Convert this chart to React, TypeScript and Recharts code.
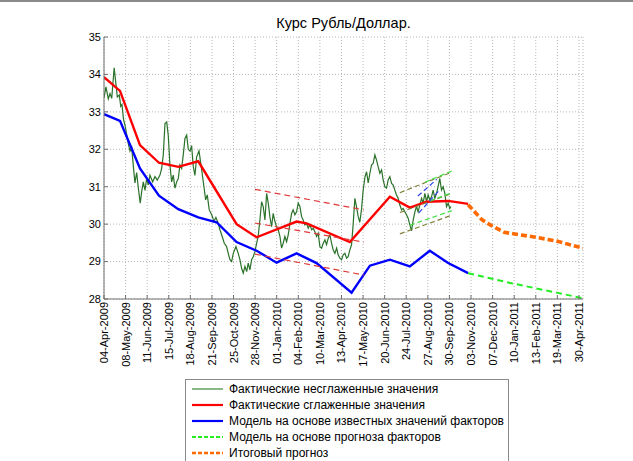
import React from 'react';
import { LineChart, Line, XAxis, YAxis, CartesianGrid } from 'recharts';

// x unit: trading-day index, one tick label every 24 points
const TICK_LABELS = ['04-Apr-2009','08-May-2009','11-Jun-2009','15-Jul-2009','18-Aug-2009','21-Sep-2009','25-Oct-2009','28-Nov-2009','01-Jan-2010','04-Feb-2010','10-Mar-2010','13-Apr-2010','17-May-2010','20-Jun-2010','24-Jul-2010','27-Aug-2010','30-Sep-2010','03-Nov-2010','07-Dec-2010','10-Jan-2011','13-Feb-2011','19-Mar-2011','30-Apr-2011'];
const TICK_STEP = 24;
const X_MAX = 532.5;
const Y_TICKS = [28, 29, 30, 31, 32, 33, 34, 35];

// Фактические несглаженные значения [t, value]
const rawSeries: [number, number][] = [
  [0,33.37],[2.2,33.67],[4.8,33.35],[6.7,33.49],[8.6,33.36],[11.3,34.18],[13,33.8],[14.8,33.4],[17,33.45],[18.6,33.15],[20,33.2],[21.7,32.8],
  [23.3,32.65],[25.2,32.4],[27,32.15],[28.9,31.95],[30.8,32.05],[32.6,31.55],[34.4,31.1],[36.3,31.38],[38.1,30.98],[40.3,30.56],[41.9,30.87],
  [43.7,31.13],[45.6,30.9],[47.4,31.22],[49.2,31.05],[51.1,31.31],[54.1,31.13],[56.7,31.27],[59.2,31.18],[62.2,31.31],[64.1,31.49],[65.9,31.85],
  [67.8,32.69],[69.7,32.73],[71.4,32.38],[73.3,31.58],[75.2,31.13],[77,31.31],[78.9,30.96],[80.8,31.13],[82.6,31.22],[84.4,31.58],[86.3,31.49],
  [88.1,31.85],[90,32.29],[91.9,32.38],[93.7,32.0],[95.6,31.95],[97.4,32.1],[99.2,31.55],[101.1,31.3],[103,31.8],[105.6,31.96],
  [108.6,31.45],[111.1,31.0],[113,30.65],[114.8,30.78],[117,30.38],[119.7,30.25],[122.2,30.07],[124.4,30.18],[127,30.02],[128.9,29.85],
  [131.4,29.67],[133.7,29.49],[136.3,29.4],[138.1,29.22],[140,29.05],[141.9,29.0],[143.7,29.22],[146.7,29.4],[149.2,29.22],[151.1,29.05],
  [153,28.82],[154.8,28.69],[156.7,28.87],[158.6,28.73],[160.3,28.96],[162.2,28.78],[164.1,29.05],[165.9,29.13],[167.8,29.27],[169.7,29.49],
  [171.4,29.67],[173.3,30.11],[175.2,30.6],[177,30.47],[178.9,30.11],[180.8,30.82],[182.6,30.56],[184.4,30.2],[186.3,29.93],[188.1,30.29],
  [190,30.07],[191.9,29.93],[193.7,29.85],[195.6,29.67],[197.4,29.36],[199.2,29.49],[201.1,29.67],[203,29.53],[204.8,29.71],[206.7,30.02],
  [208.6,30.29],[210.3,30.38],[212.2,30.25],[214.1,30.33],[215.9,30.56],[217.8,30.47],[219.7,30.2],[221.4,30.11],[223.3,29.98],[225.2,30.02],
  [227,29.89],[228.9,29.98],[230.8,29.85],[232.6,29.89],[234.4,29.8],[236.3,29.67],[238.1,29.76],[240,29.4],[241.9,29.36],[243.7,29.49],
  [245.6,29.58],[247.4,29.45],[249.2,29.62],[251.1,29.71],[253,29.49],[254.8,29.31],[256.7,29.22],[258.6,29.36],[260.3,29.18],[262.2,29.09],
  [264.1,29.05],[265.9,29.18],[267.8,29.22],[269.7,29.09],[271.4,29.13],[273.3,29.31],[275.2,29.45],[277,30.0],[278.9,30.69],[280.8,30.45],
  [282.6,30.2],[284.4,30.05],[286.3,30.4],[288.1,30.9],[290,31.25],[291.9,31.4],[293.7,31.1],[295.6,31.36],[297.4,31.58],[299.2,31.62],
  [301.1,31.85],[303,31.71],[304.8,31.53],[306.7,31.36],[308.6,31.45],[310.3,31.18],[312.2,31.0],[314.1,30.96],[315.9,31.18],[317.8,31.27],
  [319.7,31.09],[321.4,31.05],[323.3,30.91],[325.2,30.78],[327,30.69],[328.9,30.51],[330.8,30.38],[332.6,30.42],[334.4,30.33],[336.3,30.25],
  [338.1,30.16],[340,29.98],[341.9,29.82],[343.7,30.11],[345.6,30.33],[347.4,30.47],[349.2,30.33],[351.1,30.51],[353,30.69],[354.8,30.56],
  [356.7,30.82],[358.6,30.6],[360.3,30.78],[362.2,30.65],[364.1,30.73],[365.9,30.91],[367.8,30.69],[369.7,30.82],[371.4,31.0],[373.3,31.22],
  [375.2,30.91],[377,31.0],[378.9,30.82],[380.8,30.47],[382.6,30.56],[384.4,30.42],[385.6,30.47],
];

// Фактические сглаженные значения
const smoothSeries: [number, number][] = [
  [0,33.93],[17.8,33.56],[40,32.11],[61.1,31.64],[82.6,31.53],[104.8,31.68],[147.4,30.0],[169.7,29.65],
  [214.1,30.07],[225.2,30.02],[273.3,29.52],[317.8,30.73],[340,30.44],[358.6,30.6],[382.6,30.62],[404.8,30.54],
];

// Модель на основе известных значений факторов
const modelKnown: [number, number][] = [
  [0,32.94],[17.8,32.76],[40,31.49],[61.1,30.76],[82.6,30.4],[104.8,30.18],[125.2,30.05],[147.4,29.52],[169.7,29.29],
  [191.9,28.97],[214.1,29.22],[236.3,28.96],[275.2,28.17],[295.6,28.89],[317.8,29.05],[340,28.87],[362.2,29.29],[382.6,28.96],[404.8,28.69],
];

// Модель на основе прогноза факторов
const modelForecast: [number, number][] = [
  [404.8,28.69],[451.5,28.43],[503,28.17],[532.5,28.02],
];

// Итоговый прогноз
const finalForecast: [number, number][] = [
  [404.8,30.52],[420,30.12],[430.8,29.96],[445,29.78],[480,29.65],[502.6,29.55],[532.5,29.36],
];

// trend channels
const redUpper: [number, number][] = [[167.8,30.93],[288.9,30.38]];
const redMiddle: [number, number][] = [[167.8,30.03],[288.9,29.52]];
const redLower: [number, number][] = [[167.8,29.2],[288.9,28.64]];
const oliveUpper: [number, number][] = [[328.9,30.84],[386.7,31.39]];
const oliveMiddle: [number, number][] = [[328.9,30.31],[386.7,30.82]];
const oliveLower: [number, number][] = [[328.9,29.74],[386.7,30.24]];
const greenUpper: [number, number][] = [[356.7,31.12],[386.7,31.42]];
const greenMiddle: [number, number][] = [[362.2,30.62],[386.7,30.84]];
const greenLower: [number, number][] = [[340,29.97],[386.7,30.36]];
const blueUpper: [number, number][] = [[348.9,30.75],[370,31.2]];
const blueLower: [number, number][] = [[350,30.3],[373.3,30.92]];

const LEGEND_ITEMS = [
  { label: 'Фактические несглаженные значения', color: '#3a8a3a', width: 1.2, dash: undefined },
  { label: 'Фактические сглаженные значения', color: '#ff0000', width: 2.2, dash: undefined },
  { label: 'Модель на основе известных значений факторов', color: '#0000ff', width: 2.2, dash: undefined },
  { label: 'Модель на основе прогноза факторов', color: '#22ee22', width: 2, dash: '4 2' },
  { label: 'Итоговый прогноз', color: '#ff6a00', width: 2.6, dash: '4 2' },
];

const toPts = (arr: [number, number][]) => arr.map(([t, v]) => ({ t, v }));
const xTicks = TICK_LABELS.map((_, i) => i * TICK_STEP);
const FONT = '"Liberation Sans", Arial, sans-serif';

const XTick = (props: any) => {
  const { x, y, payload } = props;
  const idx = Math.round(payload.value / TICK_STEP);
  return (
    <text x={x} y={y} transform={`rotate(-90 ${x} ${y})`} textAnchor="end" dominantBaseline="central"
      fontSize={11} fill="#000" fontFamily={FONT}>
      {TICK_LABELS[idx]}
    </text>
  );
};

const series = (key: string, arr: [number, number][], stroke: string, width: number, dash?: string) => (
  <Line key={key} xAxisId="b" yAxisId="l" data={toPts(arr)} dataKey="v" type="linear" dot={false}
    activeDot={false} stroke={stroke} strokeWidth={width} strokeDasharray={dash}
    isAnimationActive={false} legendType="none" />
);

export default function App() {
  return (
    <div style={{ position: 'absolute', left: 0, top: 0, width: 633, height: 461, background: '#fff', fontFamily: FONT, overflow: 'hidden' }}>
      <div style={{ position: 'absolute', left: 0, top: 0, width: 633, height: 2, background: '#8a8a8a' }} />
      <LineChart width={633} height={461} margin={{ top: 37, right: 50, left: 0, bottom: 92 }}>
        <CartesianGrid xAxisId="b" yAxisId="l" stroke="#b8b8b8" strokeDasharray="1 2" />
        <XAxis xAxisId="b" dataKey="t" type="number" domain={[0, X_MAX]} ticks={xTicks} interval={0}
          allowDataOverflow height={70} tick={<XTick />} tickSize={-4} tickMargin={7}
          stroke="#707070" tickLine={{ stroke: '#707070' }} />
        <XAxis xAxisId="top" orientation="top" dataKey="t" type="number" domain={[0, X_MAX]} ticks={xTicks}
          interval={0} allowDataOverflow height={0} tick={false} tickSize={-4} stroke="#a0a0a0" />
        <YAxis yAxisId="l" type="number" domain={[28, 35]} ticks={Y_TICKS} interval={0} width={104}
          tickSize={-4} tickMargin={7} stroke="#707070"
          tick={{ fontSize: 11, fill: '#000', fontFamily: FONT }} />
        <YAxis yAxisId="r" orientation="right" type="number" domain={[28, 35]} ticks={Y_TICKS} interval={0}
          width={0} tick={false} tickSize={-4} stroke="#707070" />
        {series('raw', rawSeries, '#2a722a', 1.2)}
        {series('smooth', smoothSeries, '#ff0000', 2.4)}
        {series('known', modelKnown, '#0000ff', 2.4)}
        {series('fcModel', modelForecast, '#22ee22', 2, '6 4')}
        {series('fcFinal', finalForecast, '#ff6a00', 3.6, '6 3')}
        {series('ru', redUpper, '#e03a3a', 1.2, '6 4')}
        {series('rm', redMiddle, '#e03a3a', 1.2, '6 4')}
        {series('rl', redLower, '#e03a3a', 1.2, '6 4')}
        {series('ou', oliveUpper, '#80803a', 1.2, '5 3')}
        {series('om', oliveMiddle, '#80803a', 1.2, '5 3')}
        {series('ol', oliveLower, '#80803a', 1.2, '5 3')}
        {series('gu', greenUpper, '#44dd44', 1.2, '5 3')}
        {series('gm', greenMiddle, '#44dd44', 1.2, '5 3')}
        {series('gl', greenLower, '#44dd44', 1.2, '5 3')}
        {series('bu', blueUpper, '#3344ee', 1.2, '5 3')}
        {series('bl', blueLower, '#3344ee', 1.2, '5 3')}
      </LineChart>
      <svg width={633} height={461} style={{ position: 'absolute', left: 0, top: 0, pointerEvents: 'none' }}>
        <text x={343.5} y={28} textAnchor="middle" fontSize={14.5} fill="#000" fontFamily={FONT}>Курс Рубль/Доллар.</text>
        <rect x={185.5} y={379.5} width={323} height={100} fill="#fff" stroke="#8a8a8a" strokeWidth={1} />
        {LEGEND_ITEMS.map((it, i) => {
          const cy = 389 + i * 16;
          return (
            <g key={it.label}>
              <line x1={192} x2={223} y1={cy} y2={cy} stroke={it.color} strokeWidth={it.width} strokeDasharray={it.dash} />
              <text x={229} y={cy + 4} fontSize={12} fill="#000" fontFamily={FONT}>{it.label}</text>
            </g>
          );
        })}
      </svg>
    </div>
  );
}
